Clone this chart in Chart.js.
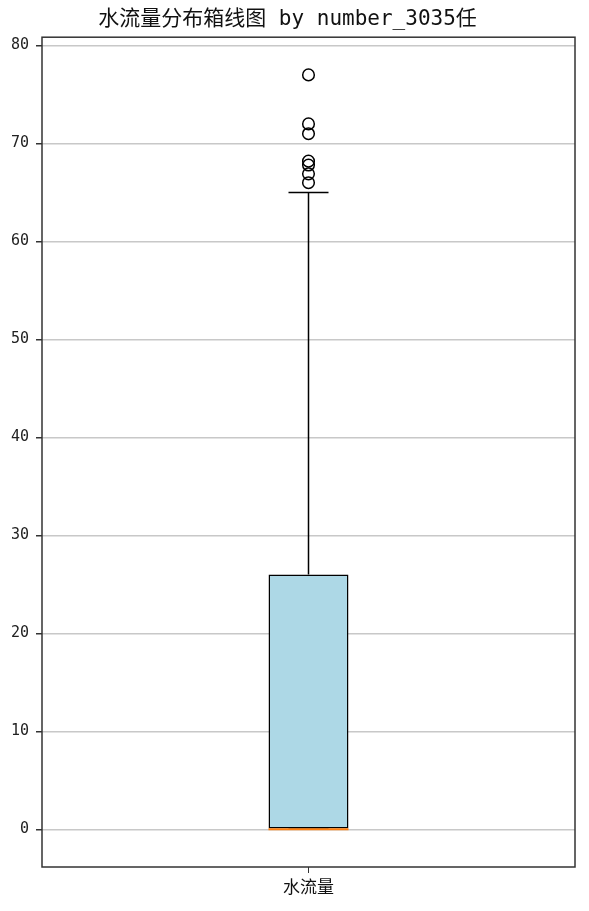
<!DOCTYPE html>
<html>
<head>
<meta charset="utf-8">
<script src="https://cdn.jsdelivr.net/npm/chart.js@4/dist/chart.umd.min.js"></script>
<style>
  body { margin: 0; background: #fff; }
  #wrap { width: 589px; height: 911px; position: relative; }
</style>
</head>
<body>
<div id="wrap"><canvas id="boxChart"></canvas></div>
<script>
// box plot stats
const categories = ['水流量'];
const boxRange = [0, 26];         // Q1, Q3
const medianValue = 0;
const whiskerLow = 0;
const whiskerHigh = 65;
const outliers = [66, 66.9, 67.8, 68.2, 71, 72, 77];
const yTicks = [0, 10, 20, 30, 40, 50, 60, 70, 80];

const cat = categories[0];
const fontFam = '"DejaVu Sans Mono", "Noto Sans CJK SC", monospace';

// frame round the plot area (matplotlib style spines)
const framePlugin = {
    id: 'frame',
    afterDatasetsDraw(chart) {
        const a = chart.chartArea;
        const c = chart.ctx;
        c.save();
        c.strokeStyle = '#333';
        c.lineWidth = 1.5;
        c.strokeRect(a.left, a.top, a.right - a.left, a.bottom - a.top);
        c.restore();
    }
};

const ctx = document.getElementById('boxChart').getContext('2d');
const boxChart = new Chart(ctx, {
    type: 'bar',
    data: {
        labels: categories,
        datasets: [
            {
                // outliers
                type: 'line',
                data: outliers.map(v => ({ x: cat, y: v })),
                showLine: false,
                pointStyle: 'circle',
                pointRadius: 5.8,
                pointBorderWidth: 1.5,
                pointBorderColor: '#000',
                pointBackgroundColor: 'rgba(0,0,0,0)',
                order: 0
            },
            {
                // median
                type: 'line',
                data: [{ x: cat, y: medianValue }],
                showLine: false,
                pointStyle: 'line',
                pointRadius: 40,
                pointBorderWidth: 2,
                pointBorderColor: '#ff7f0e',
                order: 1
            },
            {
                // caps
                type: 'line',
                data: [{ x: cat, y: whiskerHigh }, { x: cat, y: whiskerLow }],
                showLine: false,
                pointStyle: 'line',
                pointRadius: 20,
                pointBorderWidth: 1.5,
                pointBorderColor: '#000',
                order: 2
            },
            {
                // upper whisker
                type: 'line',
                data: [{ x: cat, y: boxRange[1] }, { x: cat, y: whiskerHigh }],
                borderColor: '#000',
                borderWidth: 1.5,
                pointRadius: 0,
                order: 3
            },
            {
                // box
                data: [boxRange],
                backgroundColor: '#add8e6',
                borderColor: '#000',
                borderWidth: 1.5,
                borderSkipped: false,
                barPercentage: 1,
                categoryPercentage: 0.15,
                order: 4
            }
        ]
    },
    options: {
        responsive: true,
        maintainAspectRatio: false,
        animation: false,
        layout: { autoPadding: false, padding: { left: 0, right: 14, top: 0, bottom: 0 } },
        plugins: {
            legend: { display: false },
            tooltip: { enabled: false },
            title: {
                display: true,
                text: '水流量分布箱线图 by number_3035任',
                color: '#111',
                font: { family: fontFam, size: 21, weight: 'normal' },
                padding: { top: 7, bottom: 5 }
            }
        },
        scales: {
            x: {
                offset: true,
                grid: { display: true, drawOnChartArea: false, offset: false, tickColor: '#333', tickLength: 6 },
                border: { display: false },
                ticks: { color: '#111', font: { family: fontFam, size: 17 }, padding: 5 },
                afterFit(scale) {
                    scale.height = 44;
                    scale.paddingLeft = 0;
                    scale.paddingRight = 0;
                }
            },
            y: {
                min: -3.85,
                max: 80.85,
                afterBuildTicks(scale) { scale.ticks = yTicks.map(v => ({ value: v })); },
                grid: { color: '#c8c8c8', lineWidth: 1.5, tickColor: '#333', tickLength: 6 },
                border: { display: false },
                ticks: { color: '#222', font: { family: fontFam, size: 15 }, padding: 7 },
                afterFit(scale) { scale.width = 42; }
            }
        }
    },
    plugins: [framePlugin]
});
</script>
</body>
</html>
